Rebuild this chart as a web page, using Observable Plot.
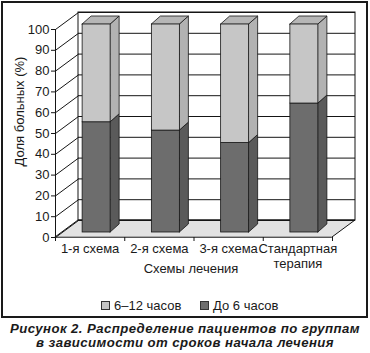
<!DOCTYPE html>
<html>
<head>
<meta charset="utf-8">
<script src="https://cdn.jsdelivr.net/npm/d3@7"></script>
<script src="https://cdn.jsdelivr.net/npm/@observablehq/plot@0.6"></script>
<style>
  body { margin: 0; background: #fff; font-family: "Liberation Sans", Arial, sans-serif; color: #1a1a1a; }
  #frame { position: absolute; left: 1px; top: 1px; width: 363px; height: 313px; border: 2px solid #1a1a1a; }
  #chart { position: absolute; left: 0; top: 0; }
  #ytitle { position: absolute; left: -46.5px; top: 104px; width: 130px; height: 15px; line-height: 15px; text-align: center; font-size: 13px; transform: rotate(-90deg); transform-origin: 65px 7.5px; white-space: nowrap; }
  .leg { position: absolute; top: 299px; font-size: 13px; line-height: 13px; white-space: nowrap; }
  .sw { display: inline-block; width: 7px; height: 7px; border: 1px solid #333; vertical-align: 0px; margin-right: 4px; }
  #caption { position: absolute; left: 0; top: 322px; width: 370px; text-align: center; font-weight: bold; font-style: italic; font-size: 13.2px; letter-spacing: 0.42px; line-height: 14px; color: #1a1a1a; }
</style>
</head>
<body>
<div id="frame"></div>
<div id="chart"></div>
<div id="ytitle">Доля больных (%)</div>
<div id="legend"></div>
<div id="caption">Рисунок 2. Распределение пациентов по группам<br>в зависимости от сроков начала лечения</div>
<script>
const categories = ["1-я схема", "2-я схема", "3-я схема", "Стандартная\nтерапия"];
const seriesNames = ["6–12 часов", "До 6 часов"];
const under6 = [53, 49, 43, 62];
const from6to12 = [47, 51, 57, 38];
const yTicks = [0, 10, 20, 30, 40, 50, 60, 70, 80, 90, 100];

const colors = {
  "До 6 часов": { front: "#6d6d6d", side: "#5a5a5a" },
  "6–12 часов": { front: "#c6c6c6", side: "#b2b2b2", top: "#b6b6b6" }
};

const W = 370, H = 290, ML = 55, MR = 38, MT = 29, MB = 53;
const pxX = (W - ML - MR) / 4;
const pxY = (H - MT - MB) / 100;
const ux = p => p / pxX, uy = p => p / pxY;
const DX = ux(23), DY = uy(17);          // wall depth
const BW = ux(28), BOX = ux(6.5), BOY = uy(5);  // bar width and depth position
const BDX = ux(9), BDY = uy(8);          // bar depth

const segs = [];
categories.forEach((c, i) => {
  const x1 = i + 0.5 - BW / 2 + BOX, x2 = x1 + BW;
  segs.push({ id: i + "a", s: "До 6 часов", x1, x2, y0: BOY, y1: under6[i] + BOY });
  segs.push({ id: i + "b", s: "6–12 часов", x1, x2, y0: under6[i] + BOY, y1: under6[i] + from6to12[i] + BOY, top: true });
});
const sides = segs.flatMap(d => [
  { id: d.id, fill: colors[d.s].side, x: d.x2, y1: d.y0, y2: d.y1 },
  { id: d.id, fill: colors[d.s].side, x: d.x2 + BDX, y1: d.y0 + BDY, y2: d.y1 + BDY }
]);
const tops = segs.filter(d => d.top).flatMap(d => [
  { id: d.id, fill: colors[d.s].top, y: d.y1, x1: d.x1, x2: d.x2 },
  { id: d.id, fill: colors[d.s].top, y: d.y1 + BDY, x1: d.x1 + BDX, x2: d.x2 + BDX }
]);
const floor = [{ y: 0, x1: 0, x2: 4 }, { y: DY, x1: DX, x2: 4 + DX }];

const ink = "#151515";
const plot = Plot.plot({
  width: W, height: H,
  marginLeft: ML, marginRight: MR, marginTop: MT, marginBottom: MB,
  x: { domain: [0, 4], axis: null },
  y: { domain: [0, 100], axis: null },
  color: { type: "identity" },
  style: { fontFamily: "'Liberation Sans', Arial, sans-serif", color: "#1a1a1a", background: "transparent" },
  marks: [
    Plot.rect([0], { x1: DX, x2: 4 + DX, y1: DY, y2: 100 + DY, fill: "white", stroke: ink, strokeWidth: 1 }),
    Plot.areaX(floor, { y: "y", x1: "x1", x2: "x2", fill: "#e2e2e2", stroke: ink, strokeWidth: 1 }),
    Plot.ruleY(yTicks, { y: d => d + DY, x1: DX, x2: 4 + DX, stroke: ink, strokeWidth: 1 }),
    Plot.link(yTicks, { x1: 0, y1: d => d, x2: DX, y2: d => d + DY, stroke: ink, strokeWidth: 1 }),
    Plot.ruleX([0], { y1: -uy(4), y2: 100, stroke: ink, strokeWidth: 1 }),
    Plot.ruleX([1, 2, 3, 4], { y1: -uy(4), y2: 0, stroke: ink, strokeWidth: 1 }),
    Plot.areaY(sides, { x: "x", y1: "y1", y2: "y2", z: "id", fill: "fill", stroke: ink, strokeWidth: 0.8 }),
    Plot.areaX(tops, { y: "y", x1: "x1", x2: "x2", z: "id", fill: "fill", stroke: ink, strokeWidth: 0.8 }),
    Plot.rect(segs, { x1: "x1", x2: "x2", y1: "y0", y2: "y1", fill: d => colors[d.s].front, stroke: ink, strokeWidth: 0.8 }),
    Plot.axisY({ ticks: yTicks, tickSize: 4, tickPadding: 2, fontSize: 13, label: null, stroke: ink }),
    Plot.text(categories, { x: (d, i) => i + 0.5, y: 0, dy: 5, lineAnchor: "top", fontSize: 13, lineHeight: 1.15, fill: "#1a1a1a" }),
    Plot.text(["Схемы лечения"], { frameAnchor: "bottom", dx: -3, dy: 35, fontSize: 13, fill: "#1a1a1a" })
  ]
});
document.getElementById("chart").append(plot);

const lg = document.getElementById("legend");
const legPos = [101, 200];
seriesNames.forEach((s, i) => {
  const el = document.createElement("div");
  el.className = "leg";
  el.style.left = legPos[i] + "px";
  const sw = document.createElement("span");
  sw.className = "sw";
  sw.style.background = colors[s].front;
  el.append(sw, document.createTextNode(s));
  lg.append(el);
});
</script>
</body>
</html>
